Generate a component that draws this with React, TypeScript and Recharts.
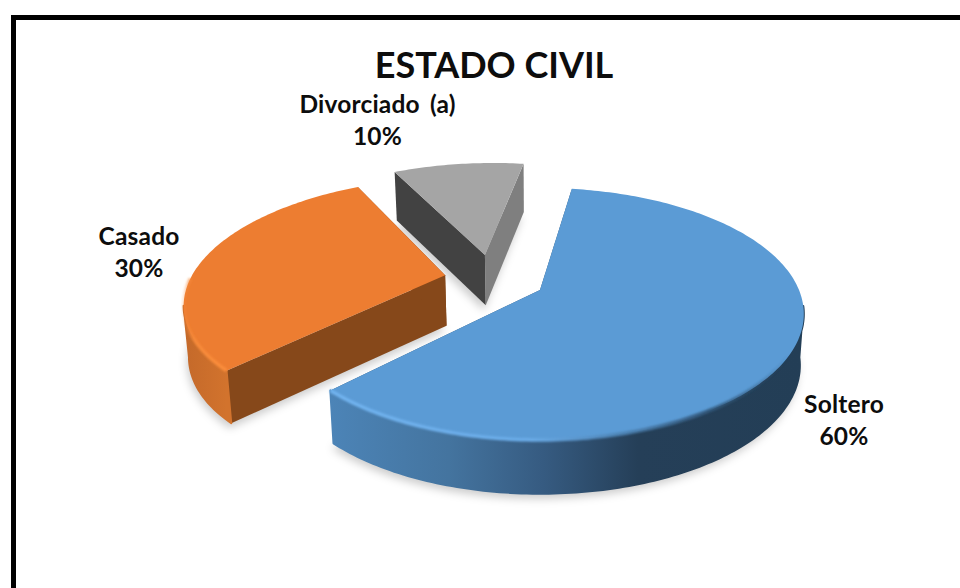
import React from "react";
import { PieChart, Pie } from "recharts";

// Estado civil: share of respondents per category
const categories = ["Soltero", "Casado", "Divorciado (a)"];
const shares = [60, 30, 10];
const chartTitle = "ESTADO CIVIL";

const rows = categories.map((name, i) => ({ name, value: shares[i] }));

// Camera used to lay the disc down in perspective
const TILT = 0.469;
const PERSPECTIVE = 0.19;
const THICKNESS = 51;
const FOOT_SCALE = 0.985;
const FONT = "Lato, Carlito, 'Open Sans', sans-serif";

type Stop = [number, string, number?];
type Look = {
  du: number;
  dv: number;
  top: string;
  wallStops: Stop[];
  rimStops: Stop[];
  startWall: string;
  endWall: string;
  labelX: number;
  labelY: number;
};

// Appearance and explosion offset of each slice, in the same order as categories
const looks: Look[] = [
  {
    du: 0,
    dv: 0,
    top: "#5B9BD5",
    wallStops: [
      [0, "#4C84B7"],
      [0.25, "#44749F"],
      [0.45, "#365B81"],
      [0.65, "#253F58"],
      [1, "#233E56"],
    ],
    rimStops: [
      [0, "#72B4F0"],
      [0.42, "#6BACE8"],
      [0.6, "#4F86B8"],
      [0.8, "#33597C"],
      [0.97, "#2B4C69", 0],
      [1, "#2B4C69", 0],
    ],
    startWall: "#2F5373",
    endWall: "#2F5373",
    labelX: 304,
    labelY: 123,
  },
  {
    du: -0.375,
    dv: -0.125,
    top: "#ED7D31",
    wallStops: [
      [0, "#C4692A"],
      [1, "#D2732D"],
    ],
    rimStops: [
      [0, "#F78A3A", 0.2],
      [0.25, "#F78A3A"],
      [1, "#FB8E3C"],
    ],
    startWall: "#86481A",
    endWall: "#86481A",
    labelX: -401,
    labelY: -45,
  },
  {
    du: -0.225,
    dv: -0.305,
    top: "#A5A5A5",
    wallStops: [
      [0, "#7F7F7F"],
      [1, "#7F7F7F"],
    ],
    rimStops: [
      [0, "#A5A5A5"],
      [1, "#A5A5A5"],
    ],
    startWall: "#424242",
    endWall: "#7F7F7F",
    labelX: -162.5,
    labelY: -177,
  },
];

type Pt = { x: number; y: number; w: number };

const project = (u: number, v: number, cx: number, cy: number, R: number): Pt => {
  const w = 1 / (1 - PERSPECTIVE * v);
  return { x: cx + R * u * w, y: cy + R * TILT * v * w, w };
};

const drop = (p: Pt, cx: number): Pt => ({
  x: cx + (p.x - cx) * FOOT_SCALE,
  y: p.y + THICKNESS * Math.pow(p.w, 0.25),
  w: p.w,
});

const toPath = (pts: Pt[], close = true) =>
  pts.map((p, i) => `${i ? "L" : "M"}${p.x.toFixed(2)} ${p.y.toFixed(2)}`).join("") + (close ? "Z" : "");

// Works out the outline of one slice from the angles the Pie computed
const sliceGeometry = (props: any) => {
  const { cx, cy, outerRadius, startAngle, endAngle } = props;
  const name = props.name ?? props.payload?.name;
  const look = looks[categories.indexOf(name)];
  const steps = Math.max(2, Math.ceil(Math.abs(endAngle - startAngle)));
  const arc: { p: Pt; v: number }[] = [];
  for (let i = 0; i <= steps; i++) {
    const a = ((startAngle + ((endAngle - startAngle) * i) / steps) * Math.PI) / 180;
    const v = -Math.sin(a);
    arc.push({ p: project(Math.cos(a) + look.du, v + look.dv, cx, cy, outerRadius), v });
  }
  const apex = project(look.du, look.dv, cx, cy, outerRadius);
  return { name, look, arc, apex, cx };
};

const gradient = (id: string, pts: Pt[], stops: Stop[]) => {
  const xs = pts.map((p) => p.x);
  return (
    <linearGradient id={id} gradientUnits="userSpaceOnUse" x1={Math.min(...xs)} x2={Math.max(...xs)} y1={0} y2={0}>
      {stops.map(([o, c, a]) => (
        <stop key={o} offset={o} stopColor={c} stopOpacity={a ?? 1} />
      ))}
    </linearGradient>
  );
};

// Soft footprint under a slice, drawn by a Pie underneath the real one
const ShadowSlice = (props: any) => {
  const { arc, apex, cx } = sliceGeometry(props);
  const foot = [apex, ...arc.map((a) => a.p)].map((p) => drop(p, cx));
  return <path d={toPath(foot)} fill="#000" fillOpacity={0.2} transform="translate(-2 5)" filter="url(#floorBlur)" />;
};

// Top face, side walls and bevelled rim of one slice
const Slice3D = (props: any) => {
  const { name, look, arc, apex, cx } = sliceGeometry(props);
  const key = categories.indexOf(name);
  const topEdge = arc.map((a) => a.p);
  const first = topEdge[0];
  const last = topEdge[topEdge.length - 1];
  const footApex = drop(apex, cx);
  const front = arc.filter((a) => a.v > 0.02).map((a) => a.p);
  // Only the near part of the curved wall can be seen
  const nearEdge = arc.filter((a) => a.v + look.dv > 0.12).map((a) => a.p);
  const nearFoot = nearEdge.map((p) => drop(p, cx));
  const wallFill = `url(#wall${key})`;
  return (
    <g strokeLinejoin="round">
      <defs>
        {gradient(`wall${key}`, front.length ? front : topEdge, look.wallStops)}
        {gradient(`rim${key}`, front.length ? front : topEdge, look.rimStops)}
      </defs>
      <path d={toPath([apex, first, drop(first, cx), footApex])} fill={look.startWall} />
      <path d={toPath([apex, last, drop(last, cx), footApex])} fill={look.endWall} />
      {nearEdge.length > 1 && (
        <path d={toPath([...nearEdge, ...[...nearFoot].reverse()])} fill={wallFill} stroke={wallFill} strokeWidth={2} />
      )}
      <path d={toPath([apex, ...topEdge])} fill={look.top} />
      {front.length > 1 && (
        <path
          d={toPath(front, false)}
          fill="none"
          stroke={`url(#rim${key})`}
          strokeWidth={3.5}
          filter="url(#rimBlur)"
        />
      )}
    </g>
  );
};

const SliceLabel = (props: any) => {
  const look = looks[categories.indexOf(props.name)];
  const x = props.cx + look.labelX;
  const y = props.cy + look.labelY;
  return (
    <text
      x={x}
      y={y}
      textAnchor="middle"
      fontFamily={FONT}
      fontWeight={700}
      fontSize={24.5}
      letterSpacing={0.2}
      wordSpacing={4}
      fill="#0D0D0D"
    >
      <tspan x={x}>{props.name}</tspan>
      <tspan x={x} dy={32}>{`${Math.round(props.percent * 100)}%`}</tspan>
    </text>
  );
};

export default function App() {
  return (
    <div
      style={{
        position: "absolute",
        left: 0,
        top: 0,
        width: 960,
        height: 588,
        overflow: "hidden",
        background: "#fff",
      }}
    >
      <div
        style={{
          position: "absolute",
          left: 11,
          top: 15,
          width: 1000,
          height: 700,
          border: "5px solid #000",
          boxSizing: "border-box",
        }}
      />
      <PieChart
        width={960}
        height={588}
        margin={{ top: 0, right: 0, bottom: 0, left: 0 }}
        style={{ position: "absolute", left: 0, top: 0 }}
      >
        <defs>
          <filter id="floorBlur" x="-20%" y="-20%" width="140%" height="140%">
            <feGaussianBlur stdDeviation="4" />
          </filter>
          <filter id="rimBlur" x="-5%" y="-20%" width="110%" height="140%">
            <feGaussianBlur stdDeviation="0.9" />
          </filter>
        </defs>
        <text
          x={494}
          y={78}
          textAnchor="middle"
          fontFamily={FONT}
          fontWeight={700}
          fontSize={36}
          fill="#0D0D0D"
        >
          {chartTitle}
        </text>
        <Pie
          data={rows}
          dataKey="value"
          nameKey="name"
          cx={540}
          cy={290}
          outerRadius={259}
          startAngle={81.6}
          endAngle={-278.4}
          isAnimationActive={false}
          shape={ShadowSlice}
          inactiveShape={ShadowSlice}
          activeShape={ShadowSlice}
          label={false}
          labelLine={false}
          legendType="none"
        />
        <Pie
          data={rows}
          dataKey="value"
          nameKey="name"
          cx={540}
          cy={290}
          outerRadius={259}
          startAngle={81.6}
          endAngle={-278.4}
          isAnimationActive={false}
          shape={Slice3D}
          inactiveShape={Slice3D}
          activeShape={Slice3D}
          label={SliceLabel}
          labelLine={false}
        />
      </PieChart>
    </div>
  );
}
